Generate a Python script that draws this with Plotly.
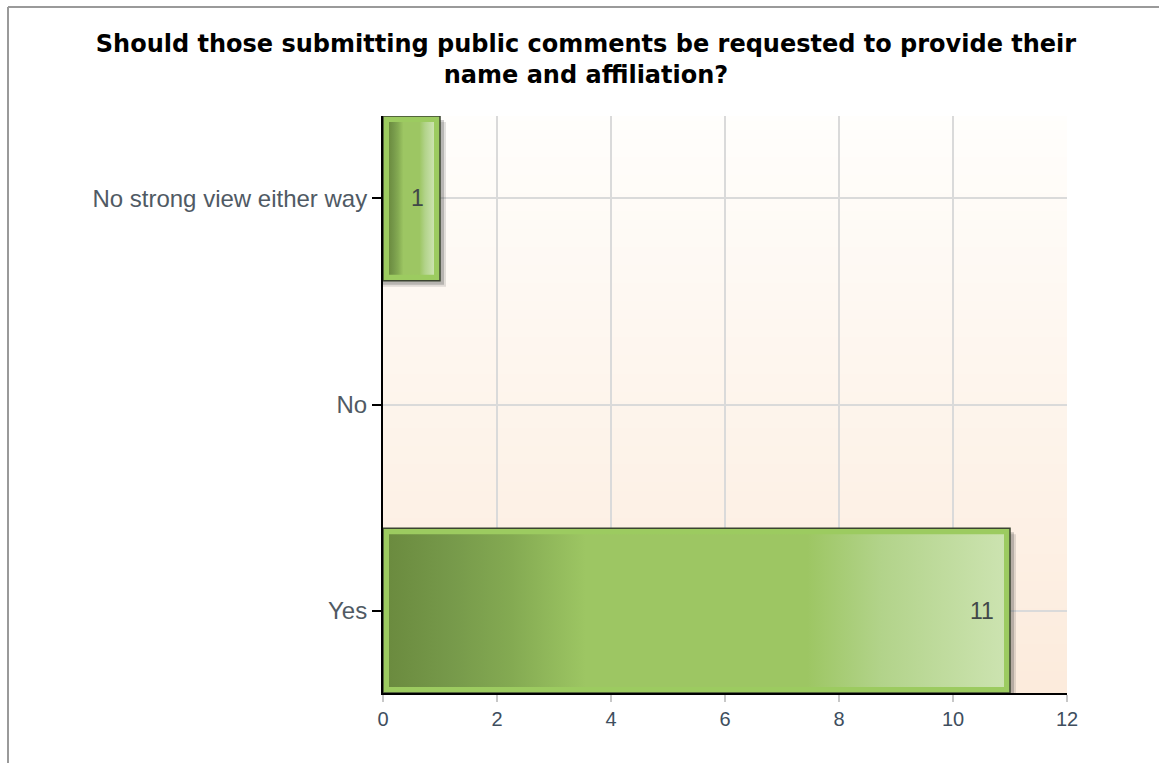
import base64
import struct
import zlib

import plotly.graph_objects as go

# Survey responses
categories = ["Yes", "No", "No strong view either way"]
counts = [11, 0, 1]
x_ticks = [0, 2, 4, 6, 8, 10, 12]

title_text = ("Should those submitting public comments be requested to provide their"
              "<br>name and affiliation?")

# Geometry of the plot area (pixels) used for pixel-sized offsets
W, H = 1159, 763
L, R, T, B = 383, 1067, 116, 693
X_MAX = 12
Y_LO, Y_HI = -0.4, 2.4
BAR_W = 0.8
px_x = X_MAX / (R - L)          # data units per pixel along x
px_y = (Y_HI - Y_LO) / (B - T)  # data units per pixel along y


def png_column(colors):
    """Build a 1-pixel-wide PNG (data URI) from a list of RGB tuples, top to bottom."""
    raw = b"".join(b"\x00" + bytes(c) for c in colors)

    def chunk(tag, data):
        return (struct.pack(">I", len(data)) + tag + data +
                struct.pack(">I", zlib.crc32(tag + data) & 0xFFFFFFFF))

    png = (b"\x89PNG\r\n\x1a\n" +
           chunk(b"IHDR", struct.pack(">IIBBBBB", 1, len(colors), 8, 2, 0, 0, 0)) +
           chunk(b"IDAT", zlib.compress(raw)) +
           chunk(b"IEND", b""))
    return "data:image/png;base64," + base64.b64encode(png).decode()


# Vertical background wash: near-white at the top to pale peach at the bottom
top_c, bot_c = (255, 254, 252), (252, 235, 220)
n = 64
bg_cols = [tuple(round(top_c[k] + (bot_c[k] - top_c[k]) * i / (n - 1)) for k in range(3))
           for i in range(n)]

fig = go.Figure()

# Outer bar body (light green rim with dark outline); empty bars get no outline
fig.add_trace(go.Bar(
    x=counts, y=list(range(len(categories))), orientation="h", width=BAR_W,
    marker=dict(color="#9ccb60",
                line=dict(color="#3b4430", width=[1.5 if v > 0 else 0 for v in counts])),
    hoverinfo="skip", showlegend=False,
))

# Inner horizontal gradient of each bar
grad = [[0.0, "#6b8b3f"], [0.1, "#76994a"], [0.2, "#84aa52"], [0.32, "#9dc663"],
        [0.68, "#9dc663"], [0.8, "#b2d38a"], [1.0, "#cce3b0"]]
inset_x, inset_y = 6 * px_x, 6 * px_y
for i, v in enumerate(counts):
    if v <= 0:
        continue
    x0, x1 = inset_x, v - inset_x
    y0, y1 = i - BAR_W / 2 + inset_y, i + BAR_W / 2 - inset_y
    fig.add_trace(go.Scatter(
        x=[x0, x1, x1, x0, x0], y=[y0, y0, y1, y1, y0],
        mode="lines", line=dict(width=0), fill="toself",
        fillgradient=dict(type="horizontal", colorscale=grad),
        hoverinfo="skip", showlegend=False,
    ))

shapes = []
# Drop shadow behind each bar (offset down and to the right)
for i, v in enumerate(counts):
    if v <= 0:
        continue
    for off, alpha in ((6, 0.15), (4, 0.25)):
        shapes.append(dict(
            type="rect", layer="between", xref="x", yref="y",
            x0=0, x1=v + off * px_x,
            y0=i - BAR_W / 2 - off * px_y, y1=i + BAR_W / 2 - off * px_y,
            fillcolor=f"rgba(60,60,60,{alpha})", line=dict(width=0),
        ))


# Outer frame lines (top and left)
def px2paper_x(p):
    return (p - L) / (R - L)


def px2paper_y(p):
    return (B - p) / (B - T)


shapes.append(dict(type="line", xref="paper", yref="paper",
                   x0=px2paper_x(8), x1=px2paper_x(W + 5), y0=px2paper_y(7), y1=px2paper_y(7),
                   line=dict(color="#9a9a9a", width=2)))
shapes.append(dict(type="line", xref="paper", yref="paper",
                   x0=px2paper_x(8), x1=px2paper_x(8), y0=px2paper_y(7), y1=px2paper_y(H + 5),
                   line=dict(color="#9a9a9a", width=2)))

# Value labels
annotations = []
for i, v in enumerate(counts):
    if v <= 0:
        continue
    annotations.append(dict(
        x=v, y=i, xref="x", yref="y", text=str(v), showarrow=False,
        xanchor="right", yanchor="middle", xshift=-14,
        font=dict(family="Liberation Sans, Arial, sans-serif", size=23, color="#404848"),
    ))

fig.update_layout(
    width=W, height=H,
    margin=dict(l=L, r=W - R, t=T, b=H - B, pad=0),
    paper_bgcolor="white",
    plot_bgcolor="rgba(0,0,0,0)",
    title=dict(text=title_text, x=586 / W, xref="container", xanchor="center",
               y=1 - 52 / H, yref="container", yanchor="top",
               font=dict(family="DejaVu Sans, Verdana, sans-serif", size=24,
                         color="#000000", weight="bold")),
    images=[dict(source=png_column(bg_cols), xref="paper", yref="paper",
                 x=0, y=1, sizex=1, sizey=1, sizing="stretch", layer="below")],
    shapes=shapes,
    annotations=annotations,
    bargap=0.2,
    showlegend=False,
)

fig.update_xaxes(
    range=[0, X_MAX], tickvals=x_ticks, ticktext=[str(t) for t in x_ticks],
    showgrid=True, gridcolor="#dadada", gridwidth=1.5,
    showline=True, linecolor="#000000", linewidth=1.5,
    ticks="outside", ticklen=7, tickcolor="#c8c8c8", tickwidth=1.5,
    tickfont=dict(family="Liberation Sans, Arial, sans-serif", size=20, color="#3e4e5e"),
    zeroline=False, fixedrange=True,
)
fig.update_yaxes(
    range=[Y_LO, Y_HI], tickvals=list(range(len(categories))), ticktext=categories,
    showgrid=True, gridcolor="#dadada", gridwidth=1.5,
    showline=True, linecolor="#000000", linewidth=2,
    ticks="outside", ticklen=9, tickcolor="#000000", tickwidth=1.5,
    tickfont=dict(family="Liberation Sans, Arial, sans-serif", size=24, color="#505a64"),
    zeroline=False, fixedrange=True,
)

fig.write_html("out.html")
